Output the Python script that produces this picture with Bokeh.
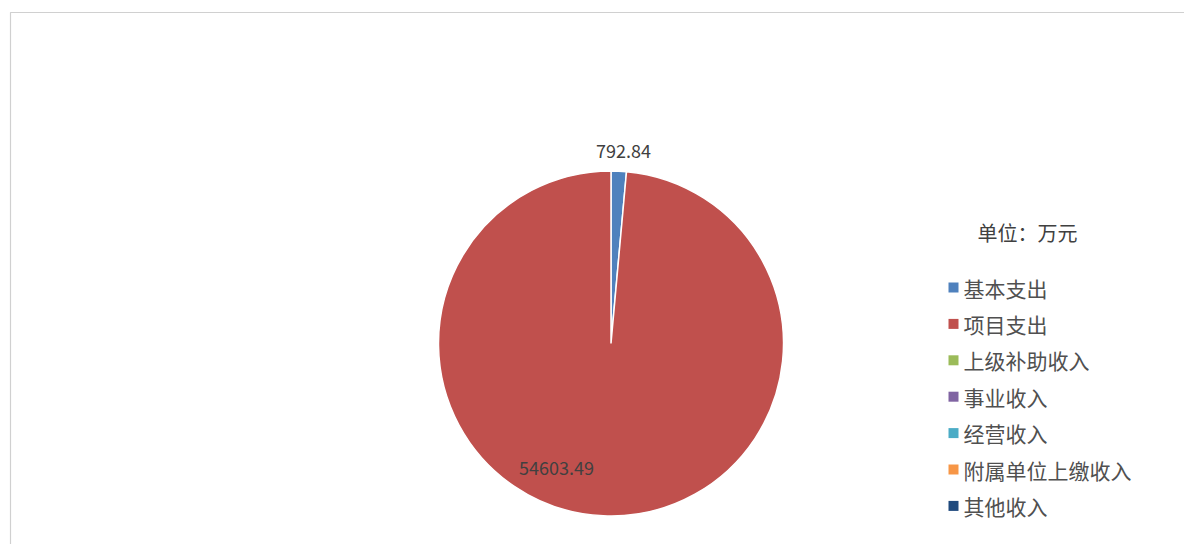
import math
from bokeh.plotting import figure
from bokeh.models import Range1d, ColumnDataSource
from bokeh.core.properties import value
from bokeh.embed import file_html
from bokeh.resources import INLINE

# ---- data ----
categories = ["基本支出", "项目支出", "上级补助收入", "事业收入", "经营收入", "附属单位上缴收入", "其他收入"]
amounts = [792.84, 54603.49, 0, 0, 0, 0, 0]
label_texts = ["792.84", "54603.49", "", "", "", "", ""]
colors = ["#4F81BD", "#C0504D", "#9BBB59", "#8064A2", "#4BACC6", "#F79646", "#1F497D"]
legend_title = "单位：万元"

W, H = 1184, 544
FONT = "Noto Sans CJK SC"

p = figure(width=W, height=H, output_backend="svg", toolbar_location=None,
           x_range=Range1d(0, W), y_range=Range1d(0, H), min_border=0)
p.axis.visible = False
p.grid.visible = False
p.outline_line_color = None
p.background_fill_color = "white"

def sy(y):  # picture y -> data y
    return H - y

def sx(x):
    return x

# chart frame (left and top edges visible)
p.quad(left=[sx(10)], right=[sx(1260)], bottom=[sy(600)], top=[sy(12)],
       fill_color="white", line_color="#D0D0D0", line_width=1.2)

# pie
cx, cy, r = sx(610.5), sy(343), 172.5
total = sum(amounts)
starts, ends, sc = [], [], []
acc = 0.0
for a, c in zip(amounts, colors):
    if a <= 0:
        continue
    s = math.pi / 2 - acc / total * 2 * math.pi
    acc += a
    e = math.pi / 2 - acc / total * 2 * math.pi
    starts.append(s); ends.append(e); sc.append(c)
src = ColumnDataSource(dict(start=starts, end=ends, color=sc))
p.wedge(x=cx, y=cy, radius=r, start_angle="start", end_angle="end", direction="clock",
        fill_color="color", line_color="white", line_width=1.5, source=src)

# data labels
lab_pos = {0: (623, 150), 1: (556, 467)}
lx, ly, lt = [], [], []
for i, t in enumerate(label_texts):
    if t:
        x, y = lab_pos[i]
        lx.append(sx(x)); ly.append(sy(y)); lt.append(t)
p.text(x=lx, y=ly, text=lt, text_font=value(FONT), text_font_size="18px",
       text_color="#404040", text_align="center", text_baseline="middle")

# legend
p.text(x=[sx(1027)], y=[sy(232)], text=[legend_title], text_font=value(FONT),
       text_font_size="20px", text_color="#404040", text_align="center", text_baseline="middle")
ys = [sy(287 + 36.4 * i) for i in range(len(categories))]
p.scatter(x=[sx(953)] * len(categories), y=ys, marker="square", size=10,
          fill_color=colors, line_color=None)
p.text(x=[sx(963)] * len(categories), y=ys, text=categories, text_font=value(FONT),
       text_font_size="21px", text_color="#505050", text_align="left", text_baseline="middle")

open("out.html", "w").write(file_html(p, INLINE))
